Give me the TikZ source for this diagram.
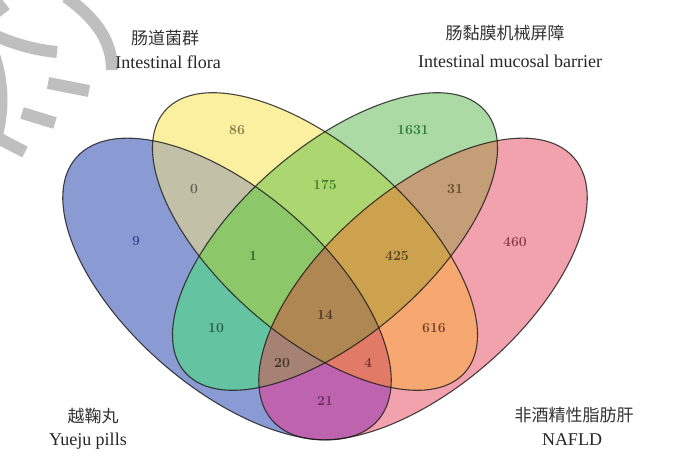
\documentclass[tikz,border=0pt]{standalone}
\usepackage{fontspec}
\newfontfamily\titlefont{Liberation Serif}
\newfontfamily\cjk{Noto Sans CJK SC}

% one colour per region
\definecolor{regB}{RGB}{138,154,210}
\definecolor{regY}{RGB}{250,240,160}
\definecolor{regG}{RGB}{172,218,165}
\definecolor{regR}{RGB}{242,162,172}
\definecolor{regBY}{RGB}{195,192,168}
\definecolor{regYG}{RGB}{172,215,112}
\definecolor{regGR}{RGB}{195,158,118}
\definecolor{regBG}{RGB}{100,195,160}
\definecolor{regYR}{RGB}{247,168,112}
\definecolor{regBR}{RGB}{190,100,175}
\definecolor{regBYG}{RGB}{140,200,105}
\definecolor{regYGR}{RGB}{205,162,78}
\definecolor{regBGR}{RGB}{165,130,115}
\definecolor{regBYR}{RGB}{225,122,102}
\definecolor{regBYGR}{RGB}{175,135,82}

\tikzset{
  bset/.style={rotate around={-41:(bc)}, x radius=200, y radius=98.5},
  yset/.style={rotate around={-41:(yc)}, x radius=199, y radius=94.5},
  gset/.style={rotate around={41:(gc)}, x radius=199, y radius=94.5},
  rset/.style={rotate around={41:(rc)}, x radius=200, y radius=98.5},
  rim/.style={draw=black!90, line width=1.1pt, draw opacity=0.8},
  setnum/.style={font=\bfseries\fontsize{14}{14}\selectfont},
  cnname/.style={font=\cjk\fontsize{17}{17}\selectfont, text=black!80},
  enname/.style={font=\titlefont\fontsize{18}{18}\selectfont, text=black!85},
  wm/.style={draw=black!25, line width=12pt}
}
\newcommand\inset[1]{\clip[#1set] (#1c) ellipse [];}
\newcommand\paint[1]{\fill[#1] (0,0) rectangle (675,458);}

\begin{document}
\begin{tikzpicture}[x=1pt,y=-1pt]
	\useasboundingbox (0,0) rectangle (675,458);

	% grey strokes, top left
	\draw[wm] (66,-3) .. controls (95,18) and (112,40) .. (112,70);
	\draw[wm] (-4,36) .. controls (15,44) and (35,50) .. (57,52);
	\draw[wm] (-5,0) -- (5,13);
	\draw[wm] (-6,55) .. controls (4,85) and (4,115) .. (-6,145);
	\draw[wm] (48,83) -- (89,91);
	\draw[wm] (22,113) -- (55,123);
	\draw[wm] (-2,138) -- (25,152);

	\coordinate (bc) at (227,289);
	\coordinate (yc) at (315,241.5);
	\coordinate (gc) at (335,241.5);
	\coordinate (rc) at (423,289);

	% single sets first, then every overlap on top
	\begin{scope}\inset{b}\paint{regB}\end{scope}
	\begin{scope}\inset{y}\paint{regY}\end{scope}
	\begin{scope}\inset{g}\paint{regG}\end{scope}
	\begin{scope}\inset{r}\paint{regR}\end{scope}
	\begin{scope}\inset{b}\inset{y}\paint{regBY}\end{scope}
	\begin{scope}\inset{y}\inset{g}\paint{regYG}\end{scope}
	\begin{scope}\inset{g}\inset{r}\paint{regGR}\end{scope}
	\begin{scope}\inset{b}\inset{g}\paint{regBG}\end{scope}
	\begin{scope}\inset{y}\inset{r}\paint{regYR}\end{scope}
	\begin{scope}\inset{b}\inset{r}\paint{regBR}\end{scope}
	\begin{scope}\inset{b}\inset{y}\inset{g}\paint{regBYG}\end{scope}
	\begin{scope}\inset{y}\inset{g}\inset{r}\paint{regYGR}\end{scope}
	\begin{scope}\inset{b}\inset{g}\inset{r}\paint{regBGR}\end{scope}
	\begin{scope}\inset{b}\inset{y}\inset{r}\paint{regBYR}\end{scope}
	\begin{scope}\inset{b}\inset{y}\inset{g}\inset{r}\paint{regBYGR}\end{scope}

	\draw[rim, bset] (bc) ellipse [];
	\draw[rim, yset] (yc) ellipse [];
	\draw[rim, gset] (gc) ellipse [];
	\draw[rim, rset] (rc) ellipse [];

	% counts
	\node[setnum, text={rgb,255:red,55;green,70;blue,150}] (n9) at (136,241) {9};
	\node[setnum, text={rgb,255:red,135;green,125;blue,70}] (n86) at (237,130) {86};
	\node[setnum, text={rgb,255:red,45;green,125;blue,55}] (n1631) at (413,130) {1631};
	\node[setnum, text={rgb,255:red,140;green,60;blue,70}] (n460) at (515,242) {460};
	\node[setnum, text={rgb,255:red,95;green,95;blue,85}] (n0) at (194,189) {0};
	\node[setnum, text={rgb,255:red,65;green,130;blue,40}] (n175) at (325,185) {175};
	\node[setnum, text={rgb,255:red,100;green,75;blue,45}] (n31) at (455,189) {31};
	\node[setnum, text={rgb,255:red,50;green,95;blue,40}] (n1) at (253,256) {1};
	\node[setnum, text={rgb,255:red,90;green,70;blue,35}] (n425) at (397,256) {425};
	\node[setnum, text={rgb,255:red,40;green,95;blue,80}] (n10) at (216,328) {10};
	\node[setnum, text={rgb,255:red,75;green,55;blue,35}] (n14) at (325,315) {14};
	\node[setnum, text={rgb,255:red,115;green,65;blue,45}] (n616) at (434,328) {616};
	\node[setnum, text={rgb,255:red,65;green,50;blue,45}] (n20) at (282,363) {20};
	\node[setnum, text={rgb,255:red,115;green,50;blue,45}] (n4) at (368,363) {4};
	\node[setnum, text={rgb,255:red,105;green,45;blue,95}] (n21) at (325,401) {21};

	% set names
	\node[cnname] (floraCN) at (165,38) {肠道菌群};
	\node[enname] (floraEN) at (168,62) {Intestinal flora};
	\node[cnname] (barrierCN) at (505,33) {肠黏膜机械屏障};
	\node[enname] (barrierEN) at (510,61) {Intestinal mucosal barrier};
	\node[cnname] (yuejuCN) at (93,416) {越鞠丸};
	\node[enname] (yuejuEN) at (88,441) {Yueju pills};
	\node[cnname] (nafldCN) at (574,415) {非酒精性脂肪肝};
	\node[enname] (nafldEN) at (572,440) {NAFLD};
\end{tikzpicture}
\end{document}
